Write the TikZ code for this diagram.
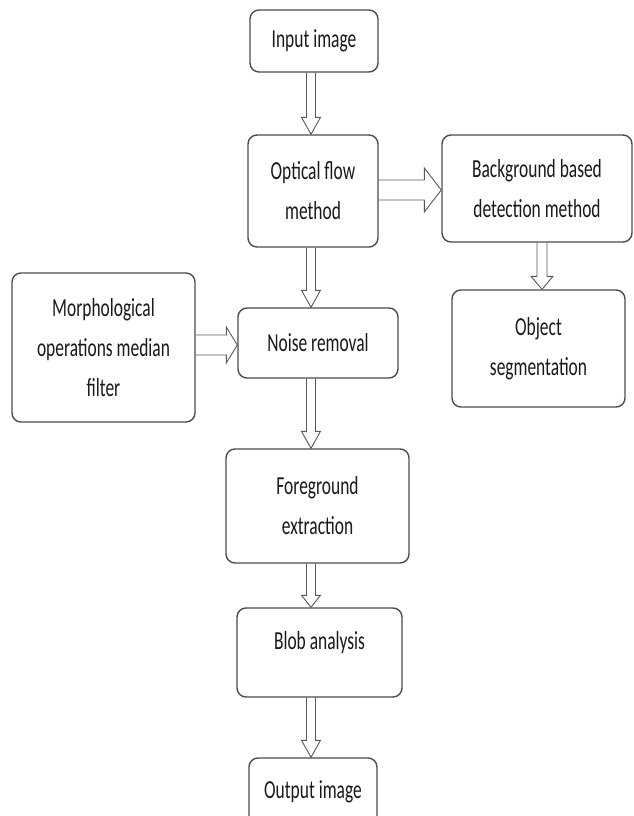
\documentclass[tikz,border=0pt]{standalone}
\usepackage{fontspec}
\setmainfont{Carlito}[FakeStretch=0.67]
\usetikzlibrary{calc}
% vertical hollow block arrow: from, to, x, shaft half, head half, head length
\newcommand\vblock[6]{%
  \draw[barrow] let \p1=(#1.south), \p2=(#2.north), \p3=(#3,0) in
    (\x3-#4pt,\y1) -- (\x3-#4pt,\y2+#6pt) -- (\x3-#5pt,\y2+#6pt) -- (\x3,\y2)
    -- (\x3+#5pt,\y2+#6pt) -- (\x3+#4pt,\y2+#6pt) -- (\x3+#4pt,\y1);}
% horizontal hollow block arrow: from, to, y, shaft half, head half, head length
\newcommand\hblock[6]{%
  \draw[barrow] let \p1=(#1.east), \p2=(#2.west), \p3=(0,#3) in
    (\x1,\y3+#4pt) -- (\x2-#6pt,\y3+#4pt) -- (\x2-#6pt,\y3+#5pt) -- (\x2,\y3)
    -- (\x2-#6pt,\y3-#5pt) -- (\x2-#6pt,\y3-#4pt) -- (\x1,\y3-#4pt);}
\begin{document}
\begin{tikzpicture}[x=1pt,y=-1pt,
  lbl/.style={font=\fontsize{26}{40}\selectfont, align=center, text=black!90},
  box/.style={lbl, draw=black!70, line width=1.4pt, rounded corners=9pt, inner sep=0pt},
  txt/.style={lbl, inner sep=0pt},
  barrow/.style={draw=black!65, line width=0.9pt, line join=miter}]
\useasboundingbox[fill=white] (0,0) rectangle (633,816);

\node[box, minimum width=128pt, minimum height=62pt]  (input) at (314,41) {Input image};
\node[box, minimum width=130pt, minimum height=112pt] (optical) at (313,191) {Optical flow\\method};
\node[box, minimum width=190pt, minimum height=107pt] (bg) at (537,188.5) {Background based\\detection method};
\node[box, minimum width=183pt, minimum height=149pt] (morph) at (103.5,347.5) {Morphological\\operations median\\filter};
\node[box, minimum width=160pt, minimum height=70pt]  (noise) at (318,343) {Noise removal};
\node[box, minimum width=173pt, minimum height=117pt] (objseg) at (538.5,348.5) {Object\\segmentation};
\node[box, minimum width=183pt, minimum height=114pt] (fg) at (317.5,506) {Foreground\\extraction};
\node[box, minimum width=165pt, minimum height=89pt]  (blob) at (319.5,652.5) {};
\node[txt] (blobtext) at (319.5,643) {Blob analysis};
\node[box, minimum width=128pt, minimum height=92pt]  (output) at (313,804) {};
\node[txt] (outtext) at (313,792) {Output image};

\vblock{input}{optical}{311}{4.5}{9.5}{17}
\vblock{optical}{noise}{311}{4.5}{9.5}{17}
\vblock{noise}{fg}{311}{4.5}{9.5}{17}
\vblock{fg}{blob}{311}{4.5}{9.5}{12}
\vblock{blob}{output}{311}{4.5}{9.5}{17}
\vblock{bg}{objseg}{542}{5}{11}{13}
\hblock{optical}{bg}{190}{10}{22}{17}
\hblock{morph}{noise}{345}{10}{18}{11}
\end{tikzpicture}
\end{document}
